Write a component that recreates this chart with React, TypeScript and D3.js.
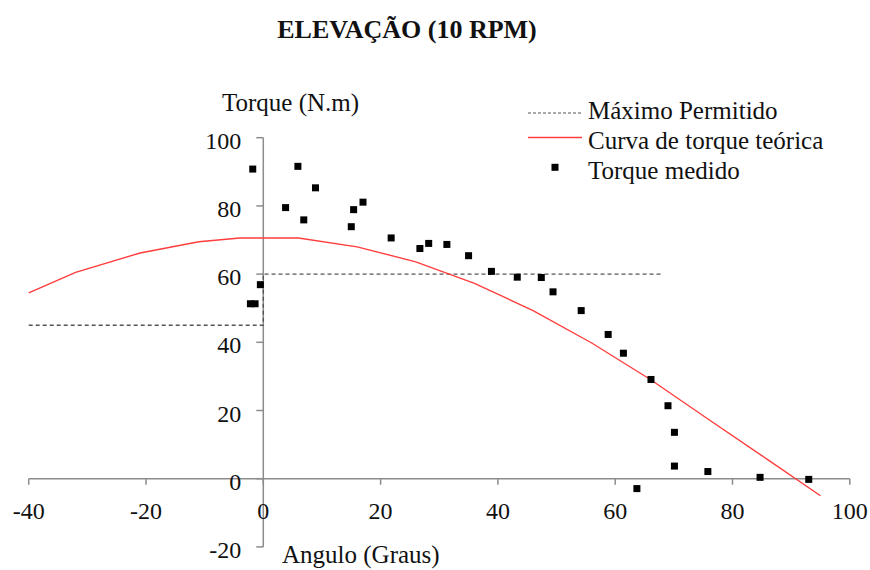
import { useEffect, useRef } from "react";
import * as d3 from "d3";

// measured torque points (angle deg, torque N.m)
const measuredAngle = [-1.8, -2.2, -1.4, -0.5, 3.8, 5.9, 6.9, 8.9, 15.0, 15.4, 17.0, 21.8, 26.7, 28.2, 31.3, 35.0, 38.9, 43.3, 47.4, 49.4, 54.2, 58.8, 61.4, 63.7, 66.1, 69.0, 70.1, 70.1, 75.8, 84.7, 93.0];
const measuredTorque = [90.8, 51.3, 51.3, 56.9, 79.5, 91.6, 75.9, 85.3, 73.9, 78.9, 81.1, 70.6, 67.5, 69.0, 68.7, 65.4, 60.8, 59.1, 59.0, 54.8, 49.3, 42.3, 36.8, -2.9, 29.1, 21.4, 13.6, 3.7, 2.1, 0.4, -0.2];

// theoretical torque curve
const curveAngle = [-40, -32, -21, -11, -4, 6, 16, 26, 36, 46, 56, 66, 76, 86, 95];
const curveTorque = [54.5, 60.5, 66.2, 69.5, 70.6, 70.6, 68.0, 63.6, 57.3, 49.3, 39.8, 29.1, 17.3, 5.6, -5.0];

// allowed maximum (step line)
const maxAngle = [-40, 0, 0, 68];
const maxTorque = [45, 45, 60, 60];

const xTicks = [-40, -20, 0, 20, 40, 60, 80, 100];
const yTicks = [-20, 0, 20, 40, 60, 80, 100];

const SERIF = "'Liberation Serif', 'Times New Roman', serif";

export default function App() {
  const ref = useRef<SVGSVGElement>(null);

  useEffect(() => {
    const el = ref.current;
    if (!el) return;
    const W = 870, H = 570;
    const svg = d3.select(el).attr("width", W).attr("height", H).attr("viewBox", `0 0 ${W} ${H}`);
    svg.selectAll("*").remove();
    svg.append("rect").attr("width", W).attr("height", H).attr("fill", "#fff");

    const x = d3.scaleLinear().domain([-40, 100]).range([28.7, 849.8]);
    const y = d3.scaleLinear().domain([-20, 100]).range([546.9, 137.7]);
    const axisCol = "#8c8c8c";

    // title
    svg.append("text").attr("x", 407).attr("y", 38).attr("text-anchor", "middle")
      .attr("font-family", SERIF).attr("font-weight", "bold").attr("font-size", 26).attr("fill", "#111")
      .text("ELEVAÇÃO (10 RPM)");

    // axes
    svg.append("line").attr("x1", x(-40)).attr("x2", x(100)).attr("y1", y(0)).attr("y2", y(0))
      .attr("stroke", axisCol).attr("stroke-width", 1.5);
    svg.append("line").attr("x1", x(0)).attr("x2", x(0)).attr("y1", y(100)).attr("y2", y(-20))
      .attr("stroke", axisCol).attr("stroke-width", 1.5);

    xTicks.forEach((t) => {
      svg.append("line").attr("x1", x(t)).attr("x2", x(t)).attr("y1", y(0)).attr("y2", y(0) + 6)
        .attr("stroke", axisCol).attr("stroke-width", 1.5);
      svg.append("text").attr("x", x(t)).attr("y", y(0) + 40).attr("text-anchor", "middle")
        .attr("font-family", SERIF).attr("font-size", 24).attr("fill", "#111").text(t);
    });
    yTicks.forEach((t) => {
      svg.append("line").attr("x1", x(0) - 7).attr("x2", x(0)).attr("y1", y(t)).attr("y2", y(t))
        .attr("stroke", axisCol).attr("stroke-width", 1.5);
      svg.append("text").attr("x", x(0) - 22).attr("y", y(t) + 11).attr("text-anchor", "end")
        .attr("font-family", SERIF).attr("font-size", 24).attr("fill", "#111").text(t);
    });

    svg.append("text").attr("x", 222).attr("y", 111).attr("font-family", SERIF).attr("font-size", 25)
      .attr("fill", "#111").text("Torque (N.m)");
    svg.append("text").attr("x", 282).attr("y", 563).attr("font-family", SERIF).attr("font-size", 25)
      .attr("fill", "#111").text("Angulo (Graus)");

    // max permitted step line
    const line = d3.line<number>().x((_d, i) => x(maxAngle[i])).y((d) => y(d));
    svg.append("path").datum(maxTorque).attr("d", line).attr("fill", "none")
      .attr("stroke", "#555").attr("stroke-width", 1.4).attr("stroke-dasharray", "4 3");

    // theoretical curve
    const curve = d3.line<number>().x((_d, i) => x(curveAngle[i])).y((d) => y(d));
    svg.append("path").datum(curveTorque).attr("d", curve).attr("fill", "none")
      .attr("stroke", "#ff3d3d").attr("stroke-width", 1.4);

    // measured points
    const s = 7;
    svg.append("g").selectAll("rect").data(measuredTorque).join("rect")
      .attr("x", (_d, i) => x(measuredAngle[i]) - s / 2).attr("y", (d) => y(d) - s / 2)
      .attr("width", s).attr("height", s).attr("fill", "#000");

    // legend
    const lx1 = 528, lx2 = 582, tx = 588;
    svg.append("line").attr("x1", lx1).attr("x2", lx2).attr("y1", 113).attr("y2", 113)
      .attr("stroke", "#555").attr("stroke-width", 1.2).attr("stroke-dasharray", "3 2");
    svg.append("text").attr("x", tx).attr("y", 119).attr("font-family", SERIF).attr("font-size", 25)
      .attr("fill", "#111").text("Máximo Permitido");
    svg.append("line").attr("x1", lx1).attr("x2", lx2).attr("y1", 137.5).attr("y2", 137.5)
      .attr("stroke", "#ff3d3d").attr("stroke-width", 1.4);
    svg.append("text").attr("x", tx).attr("y", 149).attr("font-family", SERIF).attr("font-size", 25)
      .attr("fill", "#111").text("Curva de torque teórica");
    svg.append("rect").attr("x", 555 - s / 2).attr("y", 167.3 - s / 2).attr("width", s).attr("height", s)
      .attr("fill", "#000");
    svg.append("text").attr("x", tx).attr("y", 179).attr("font-family", SERIF).attr("font-size", 25)
      .attr("fill", "#111").text("Torque medido");
  }, []);

  return <svg ref={ref} style={{ position: "absolute", left: 0, top: 0 }} role="img" aria-label="Elevação torque chart" />;
}
